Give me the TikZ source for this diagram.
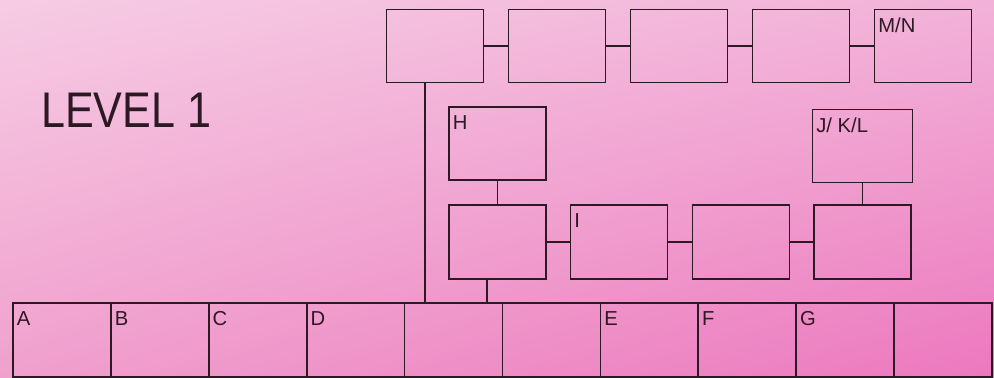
\documentclass[tikz,border=0pt]{standalone}
\usepackage{fontspec}
\setmainfont{Liberation Sans}
\usetikzlibrary{positioning, calc, shadings}

\definecolor{plotinchiostro}{RGB}{45,25,35}
\definecolor{rosachiaro}{RGB}{246,204,228}
\definecolor{rosamedio}{RGB}{242,178,216}
\definecolor{rosacaldo}{RGB}{240,160,205}
\definecolor{rosaforte}{RGB}{236,120,190}

\begin{document}
\begin{tikzpicture}[
  x=0.02cm, y=-0.02cm,
  font=\fontsize{11.5}{13}\selectfont,
  casella/.style={draw=plotinchiostro, line width=1pt, inner sep=0pt,
                  minimum width=1.94cm, minimum height=1.46cm},
  cella/.style={draw=plotinchiostro, line width=1pt, inner sep=0pt,
                minimum width=1.958cm, minimum height=1.48cm},
  sigla/.style={anchor=north west, inner sep=0pt, xshift=2.5pt, yshift=-5pt,
                text=plotinchiostro},
  filo/.style={draw=plotinchiostro, line width=1pt}
]

% ---- sfondo rosa sfumato ---------------------------------------------
\useasboundingbox (0,0) rectangle (994,378);
\shade[upper left=rosachiaro, upper right=rosamedio,
       lower left=rosacaldo, lower right=rosaforte] (0,0) rectangle (994,378);

\node[anchor=base west, inner sep=0pt, xscale=0.86,
      font=\fontsize{28.5}{30}\selectfont, text=plotinchiostro] (titolo) at (41,128) {LEVEL 1};

% ---- riga superiore ----------------------------------------------------
\foreach \n/\x in {1/435, 2/557, 3/679, 4/801, 5/923} {
  \node[casella] (alto\n) at (\x,46) {};
}
\node[sigla] at (alto5.north west) {M/N};
\foreach \a/\b in {1/2, 2/3, 3/4, 4/5} {
  \draw[filo] (alto\a.east) -- (alto\b.west);
}

% ---- riga centrale e caselle appese ------------------------------------
\foreach \n/\x in {1/497.5, 2/619, 3/741, 4/862.5} {
  \node[casella, minimum height=1.48cm] (medio\n) at (\x,242) {};
}
\node[sigla] at (medio2.north west) {I};
\foreach \a/\b in {1/2, 2/3, 3/4} {
  \draw[filo] (medio\a.east) -- (medio\b.west);
}

\node[casella] (acca) at (497.5,143.5) {};
\node[sigla] at (acca.north west) {H};
\node[casella, minimum width=2cm] (jkl) at (862.5,146) {};
\node[sigla] at (jkl.north west) {J/ K/L};

\draw[filo] (acca.south) -- (medio1.north);
\draw[filo] (jkl.south) -- (medio4.north);

% ---- riga inferiore ----------------------------------------------------
\foreach \n/\t in {1/A, 2/B, 3/C, 4/D, 5/, 6/, 7/E, 8/F, 9/G, 10/} {
  \node[cella] (basso\n) at ({13+97.9*(\n-0.5)},340) {};
  \node[sigla] at (basso\n.north west) {\t};
}

% ---- collegamenti verticali verso la riga inferiore ---------------------
\draw[filo] ([xshift=-0.2cm]alto1.south) coordinate (cadutaalto) -- (cadutaalto |- basso5.north);
\draw[filo] ([xshift=-0.21cm]medio1.south) coordinate (cadutamedio) -- (cadutamedio |- basso5.north);

\end{tikzpicture}
\end{document}
